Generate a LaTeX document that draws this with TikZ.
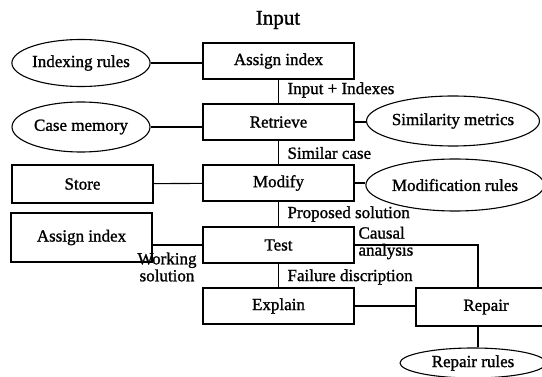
\documentclass[tikz,border=0pt]{standalone}
\usepackage{fontspec}
\setmainfont{Liberation Serif}[FakeBold=1.2]
\usetikzlibrary{shapes.geometric}
\begin{document}
\begin{tikzpicture}[x=1pt,y=-1pt,line width=1.1pt,
  every node/.style={font=\fontsize{17}{17}\selectfont},
  stage/.style={draw,rectangle,minimum width=151pt,minimum height=36pt,inner sep=0pt},
  sidebox/.style={draw,rectangle,minimum width=141pt,inner sep=0pt},
  source/.style={draw,ellipse,inner sep=0pt},
  lbl/.style={anchor=west,inner sep=0pt}]
\useasboundingbox (0,0) rectangle (542,377);
\clip (0,0) rectangle (542,377);

% main chain of stages
\node[font=\fontsize{21}{21}\selectfont] (in) at (278,20) {Input};
\node[stage] (a1)   at (278.5,61)  {Assign index};
\node[stage] (ret)  at (278.5,122) {Retrieve};
\node[stage] (mod)  at (278.5,183) {Modify};
\node[stage] (test) at (278.5,245) {Test};
\node[stage] (expl) at (278.5,306) {Explain};

% knowledge sources and side stages
\node[source,minimum width=138pt,minimum height=47pt] (idx) at (81,63)  {Indexing rules};
\node[source,minimum width=138pt,minimum height=50pt] (cm)  at (81,127) {Case memory};
\node[sidebox,minimum height=38pt] (store) at (82.5,184)  {Store};
\node[sidebox,minimum height=49pt] (a2)    at (81.5,237.5) {Assign index};
\node[source,minimum width=133pt,minimum height=50pt] (sim)  at (453,121) {Similarity metrics};
\node[source,minimum width=145pt,minimum height=52pt] (modr) at (455,185) {Modification rules};
\node[draw,rectangle,minimum width=140pt,minimum height=38pt,inner sep=0pt] (rep) at (486,307) {Repair};
\node[source,minimum width=146pt,minimum height=30pt] (repr) at (473,363) {Repair rules};
\coordinate (turn) at (478,245);

% connectors along the chain
\draw (a1) -- (ret);
\draw (ret) -- (mod);
\draw (mod) -- (test);
\draw (test) -- (expl);

% connectors to the side
\draw (idx.east) -- (idx.east -| a1.west);
\draw (cm.east) -- (cm.east -| ret.west);
\draw (store) -- (mod);
\draw (test.west) -- (test.west -| a2.east);
\draw (ret.east) -- (ret.east -| sim.west);
\draw (mod.east) -- (mod.east -| modr.west);
\draw (expl.east) -- (expl.east -| rep.west);
\draw (test.east) -- (turn) -- (turn |- rep.north);
\draw (turn |- rep.south) -- (turn |- repr.north);

% flow labels
\node[lbl] at (287,90)  {Input + Indexes};
\node[lbl] at (287,153) {Similar case};
\node[lbl] at (287,214) {Proposed solution};
\node[lbl] at (287,277) {Failure discription};
\node[lbl,align=left] at (358,243) {Causal\\analysis};
\node[align=center,inner sep=0pt] at (167,267) {Working\\solution};
\end{tikzpicture}
\end{document}
